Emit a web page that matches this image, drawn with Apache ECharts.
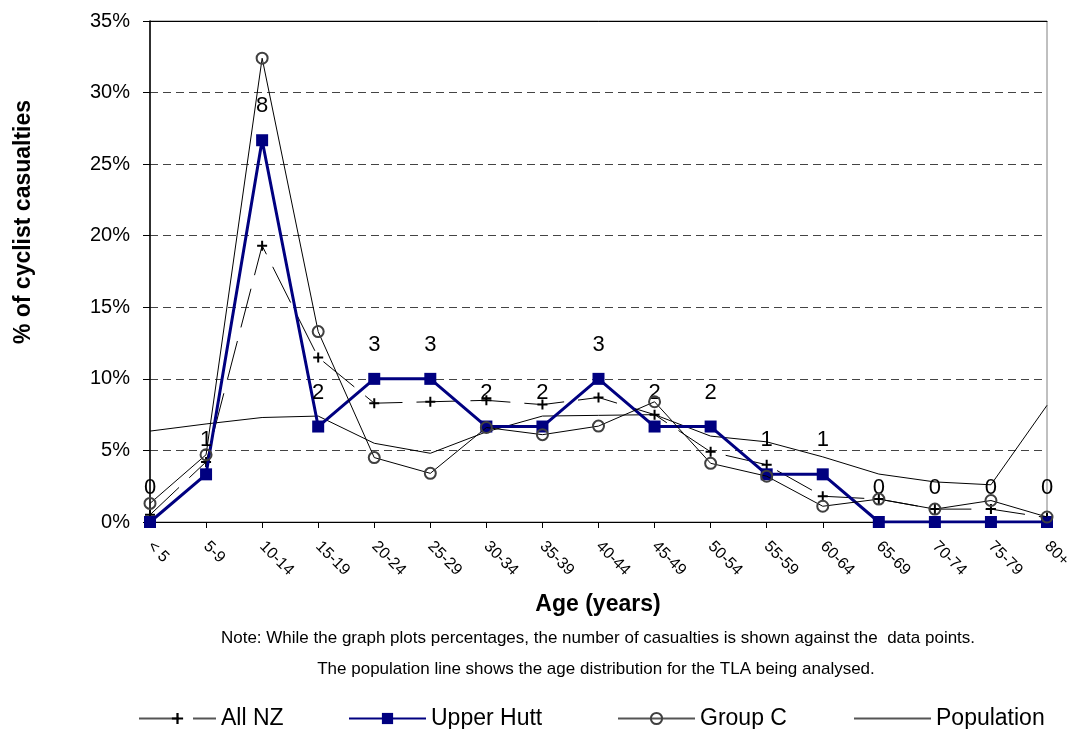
<!DOCTYPE html>
<html>
<head>
<meta charset="utf-8">
<title>Cyclist casualties by age</title>
<script src="https://cdn.jsdelivr.net/npm/echarts@6/dist/echarts.min.js"></script>
<style>
    html, body {margin: 0; padding: 0; background: #fff;}
    #chart {width: 1084px; height: 729px;}
</style>
</head>
<body>
<div id="chart"></div>
<script>
// age groups
var ages = ['< 5', '5-9', '10-14', '15-19', '20-24', '25-29', '30-34', '35-39', '40-44',
    '45-49', '50-54', '55-59', '60-64', '65-69', '70-74', '75-79', '80+'];

// % of cyclist casualties
var allNZ = [0.5, 4.2, 19.3, 11.5, 8.3, 8.4, 8.5, 8.2, 8.7, 7.5, 4.9, 4.0, 1.8, 1.6, 0.9, 0.9, 0.3];
var upperHutt = [0, 3.33, 26.67, 6.67, 10, 10, 6.67, 6.67, 10, 6.67, 6.67, 3.33, 3.33, 0, 0, 0, 0];
var groupC = [1.3, 4.7, 32.4, 13.3, 4.5, 3.4, 6.6, 6.1, 6.7, 8.4, 4.1, 3.2, 1.1, 1.6, 0.9, 1.5, 0.35];
var population = [6.35, 6.85, 7.3, 7.4, 5.5, 4.8, 6.3, 7.4, 7.45, 7.5, 6.0, 5.6, 4.55, 3.35, 2.8, 2.6, 8.15];

// number of casualties shown against the Upper Hutt points
var counts = [0, 1, 8, 2, 3, 3, 2, 2, 3, 2, 2, 1, 1, 0, 0, 0, 0];

var yTicks = {min: 0, max: 35, step: 5};

var FONT = 'Liberation Sans, Arial, sans-serif';
var plus = 'path://M4,0h2v4h4v2h-4v4h-2v-4h-4v-2h4z';

var myChart = echarts.init(document.getElementById('chart'));

function legendAt(item, left) {
    return {
        data: [item],
        left: left,
        top: 702,
        itemWidth: 77,
        itemHeight: 14,
        selectedMode: false,
        textStyle: {fontFamily: FONT, fontSize: 23, color: '#000'}
    };
}

function caption(text, x, y, font) {
    return {
        type: 'text',
        x: x, y: y,
        style: {
            text: text,
            font: font,
            fill: '#000',
            align: 'center',
            verticalAlign: 'middle'
        }
    };
}

var yName = caption('% of cyclist casualties', 24, 222, 'bold 23px Liberation Sans, Arial, sans-serif');
yName.rotation = Math.PI / 2;

var option = {
    animation: false,
    backgroundColor: '#fff',
    textStyle: {fontFamily: FONT},
    grid: {
        left: 150,
        top: 21,
        right: 37,
        bottom: 207,
        show: true,
        borderColor: '#808080',
        borderWidth: 1
    },
    legend: [
        legendAt({name: 'All NZ', lineStyle: {color: '#555'}}, 133),
        legendAt('Upper Hutt', 343),
        legendAt({name: 'Group C', lineStyle: {color: '#555'}}, 612),
        legendAt({name: 'Population', itemStyle: {opacity: 0}, lineStyle: {color: '#555'}}, 848)
    ],
    graphic: [
        yName,
        caption('Age (years)', 598, 605, 'bold 23px Liberation Sans, Arial, sans-serif'),
        caption('Note: While the graph plots percentages, the number of casualties is shown against the  data points.',
            598, 638, '17px Liberation Sans, Arial, sans-serif'),
        caption('The population line shows the age distribution for the TLA being analysed.',
            596, 669, '17px Liberation Sans, Arial, sans-serif')
    ],
    xAxis: [
        {
            type: 'category',
            data: ages,
            boundaryGap: false,
            axisLine: {lineStyle: {color: '#000', width: 1}},
            axisTick: {show: true, inside: false, length: 6, interval: 0, lineStyle: {color: '#000'}},
            axisLabel: {
                interval: 0,
                rotate: -45,
                margin: 22,
                fontSize: 16,
                color: '#000'
            },
            splitLine: {show: false}
        },
        {
            // top border of the plot area
            type: 'category',
            data: ages,
            position: 'top',
            boundaryGap: false,
            axisLine: {lineStyle: {color: '#000', width: 1}},
            axisTick: {show: false},
            axisLabel: {show: false}
        }
    ],
    yAxis: {
        type: 'value',
        min: yTicks.min,
        max: yTicks.max,
        interval: yTicks.step,
        axisLine: {show: true, lineStyle: {color: '#000', width: 1.5}},
        axisTick: {show: true, inside: false, length: 7, lineStyle: {color: '#000'}},
        axisLabel: {
            formatter: '{value}%',
            fontSize: 20,
            color: '#000',
            margin: 20
        },
        splitLine: {lineStyle: {color: '#444', type: [8, 5], width: 1}}
    },
    series: [
        {
            name: 'All NZ',
            type: 'line',
            data: allNZ,
            symbol: plus,
            symbolSize: 10,
            itemStyle: {color: '#000'},
            lineStyle: {color: '#000', width: 1, type: [40, 14]},
            z: 2
        },
        {
            name: 'Upper Hutt',
            type: 'line',
            data: upperHutt,
            symbol: 'rect',
            symbolSize: 12,
            itemStyle: {color: '#000080'},
            lineStyle: {color: '#000080', width: 3},
            label: {
                show: true,
                position: 'top',
                distance: 17,
                fontSize: 22,
                color: '#000',
                formatter: function (p) {
                    return counts[p.dataIndex];
                }
            },
            z: 3
        },
        {
            name: 'Group C',
            type: 'line',
            data: groupC,
            symbol: 'circle',
            symbolSize: 11,
            itemStyle: {color: 'rgba(255,255,255,0)', borderColor: '#404040', borderWidth: 2},
            lineStyle: {color: '#000', width: 1},
            z: 4
        },
        {
            name: 'Population',
            type: 'line',
            data: population,
            symbol: 'none',
            itemStyle: {color: '#000'},
            lineStyle: {color: '#000', width: 1},
            z: 2
        }
    ]
};

myChart.setOption(option);
</script>
</body>
</html>
